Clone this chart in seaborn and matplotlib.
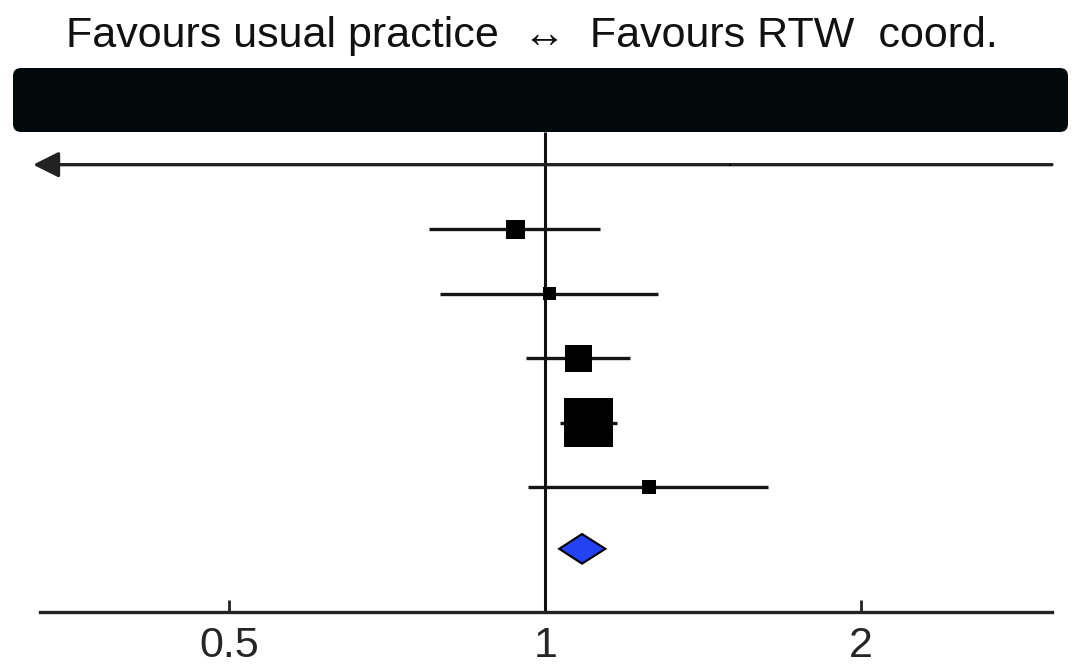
import numpy as np
import pandas as pd
import matplotlib.pyplot as plt
from matplotlib.patches import FancyBboxPatch
import seaborn as sns

# study rows (top to bottom), ratio scale
row = [1, 2, 3, 4, 5, 6]
estimate = [1.50, 0.936, 1.009, 1.075, 1.099, 1.256]
ci_low = [0.20, 0.774, 0.794, 0.959, 1.033, 0.963]
ci_high = [4.00, 1.128, 1.281, 1.205, 1.171, 1.631]
weight = [0.1, 9.4, 4.4, 18.9, 62.3, 5.1]

# pooled estimate
pooled_row = 6.96
pooled = [1.031, 1.084, 1.141]

tick_values = [0.5, 1, 2]
tick_labels = ['0.5', '1', '2']
header = 'Favours usual practice  \u2194  Favours RTW  coord.'

sns.set_theme(style='white')
plt.rcParams['font.family'] = ['Liberation Sans', 'DejaVu Sans']

df = pd.DataFrame({'row': row, 'est': estimate, 'lo': ci_low, 'hi': ci_high, 'w': weight})

fig = plt.figure(figsize=(10.74, 6.68), dpi=100)
ax = fig.add_axes([40 / 1074, 56 / 668, 1012 / 1074, 544 / 668])
ax.set_xscale('log', base=2)
xmin, xmax = 0.33, 3.04
ax.set_xlim(xmin, xmax)
ax.set_ylim(7.94, -0.5)

# reference line at 1
ax.vlines(1, 0.5, 7.94, color='#111111', lw=2.2, zorder=1)

# confidence intervals (arrow where it runs off the scale)
for _, r in df.iterrows():
    lo = max(r['lo'], xmin)
    hi = min(r['hi'], xmax)
    if r['lo'] < xmin:
        ax.annotate('', xy=(xmin * 0.985, r['row']), xytext=(hi, r['row']),
                    arrowprops=dict(arrowstyle='-|>,head_length=1.3,head_width=0.65',
                                    lw=2.4, color='#222222', shrinkA=0, shrinkB=0),
                    annotation_clip=False, zorder=2)
    else:
        ax.hlines(r['row'], lo, hi, color='#151515', lw=2.4, zorder=2)

# squares, area proportional to weight
wmin, wmax = min(weight), max(weight)
sns.scatterplot(data=df, x='est', y='row', size='w', sizes=(20 * wmin, 20 * wmax),
                size_norm=(wmin, wmax), marker='s', color='black', linewidth=0,
                legend=False, ax=ax, zorder=3)

# pooled diamond
h = 0.23
ax.fill([pooled[0], pooled[1], pooled[2], pooled[1]],
        [pooled_row, pooled_row - h, pooled_row, pooled_row + h],
        facecolor='#2343f2', edgecolor='black', lw=1.5, zorder=3)

ax.set_xticks(tick_values)
ax.set_xticklabels(tick_labels)
ax.xaxis.set_minor_locator(plt.NullLocator())
ax.tick_params(axis='x', direction='in', length=9, width=2, color='#222222',
               labelsize=31, pad=10, bottom=True)
ax.set_yticks([])
ax.set_xlabel('')
ax.set_ylabel('')
for s in ['top', 'left', 'right']:
    ax.spines[s].set_visible(False)
ax.spines['bottom'].set_linewidth(2.4)
ax.spines['bottom'].set_color('#222222')

# black header band
band = FancyBboxPatch((0.13, 5.36), 10.55, 0.64, boxstyle='round,pad=0,rounding_size=0.08',
                      transform=fig.dpi_scale_trans, facecolor='#03080b', edgecolor='none')
fig.patches.append(band)

fig.text(532 / 1074, 1 - 36 / 668, header, ha='center', va='center', fontsize=31,
         color='#111111')

fig.savefig('out.png', dpi=100)
